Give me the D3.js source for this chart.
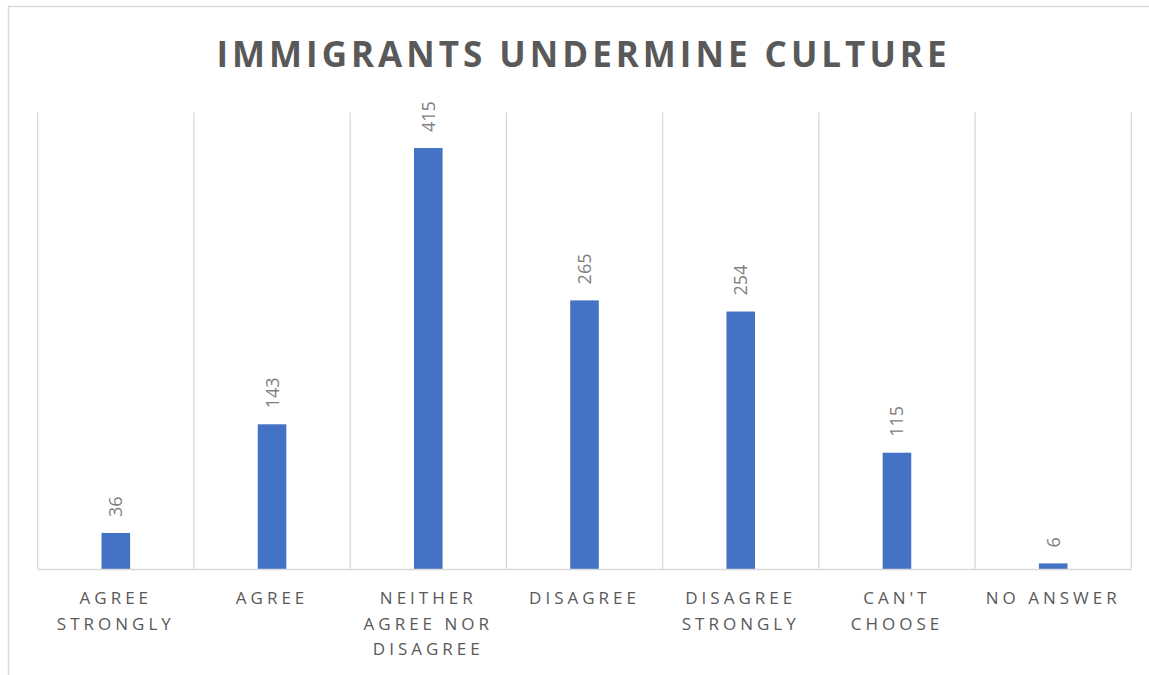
<!DOCTYPE html>
<html>
<head>
<meta charset="utf-8">
<script src="https://cdn.jsdelivr.net/npm/d3@7"></script>
<style>
  html, body { margin: 0; padding: 0; background: #fff; }
  svg { display: block; }
</style>
</head>
<body>
<svg id="chart" width="1149" height="675"></svg>
<script>
// Survey responses: "Immigrants undermine culture"
const categories = [
  "Agree strongly",
  "Agree",
  "Neither agree nor disagree",
  "Disagree",
  "Disagree strongly",
  "Can't choose",
  "No answer"
];
// Axis label lines for each category (wrapped as displayed)
const tickLabels = [
  ["AGREE", "STRONGLY"],
  ["AGREE"],
  ["NEITHER", "AGREE NOR", "DISAGREE"],
  ["DISAGREE"],
  ["DISAGREE", "STRONGLY"],
  ["CAN'T", "CHOOSE"],
  ["NO ANSWER"]
];
const counts = [36, 143, 415, 265, 254, 115, 6];
const yDomain = [0, 450];
const title = "IMMIGRANTS UNDERMINE CULTURE";

const svg = d3.select("#chart");
const W = 1149, H = 675;
const plot = { left: 37.7, right: 1131.3, top: 112.5, bottom: 569.5 };

// Outer chart frame
svg.append("rect")
  .attr("x", 8.5).attr("y", 6.5)
  .attr("width", W + 20).attr("height", H + 20)
  .attr("fill", "#fff")
  .attr("stroke", "#d9d9d9").attr("stroke-width", 1.5);

const x = d3.scaleBand()
  .domain(categories)
  .range([plot.left, plot.right])
  .paddingInner(0).paddingOuter(0);

const y = d3.scaleLinear()
  .domain(yDomain)
  .range([plot.bottom, plot.top]);

const barFrac = 0.183;
const bw = x.bandwidth() * barFrac;

// Vertical gridlines at category boundaries
const bounds = categories.map(c => x(c)).concat([x(categories[categories.length - 1]) + x.bandwidth()]);
svg.append("g")
  .selectAll("line")
  .data(bounds)
  .join("line")
  .attr("x1", d => d).attr("x2", d => d)
  .attr("y1", plot.top).attr("y2", plot.bottom)
  .attr("stroke", "#d9d9d9").attr("stroke-width", 1.3);

// Bars
svg.append("g")
  .selectAll("rect")
  .data(counts)
  .join("rect")
  .attr("x", (d, i) => x(categories[i]) + x.bandwidth() / 2 - bw / 2)
  .attr("width", bw)
  .attr("y", d => y(d))
  .attr("height", d => y(0) - y(d))
  .attr("fill", "#4472C4");

// Baseline axis line
svg.append("line")
  .attr("x1", plot.left).attr("x2", plot.right)
  .attr("y1", y(0)).attr("y2", y(0))
  .attr("stroke", "#d9d9d9").attr("stroke-width", 1.5);

// Value labels, rotated
svg.append("g")
  .selectAll("text")
  .data(counts)
  .join("text")
  .attr("transform", (d, i) => {
    const cx = x(categories[i]) + x.bandwidth() / 2;
    return `translate(${cx},${y(d) - 16}) rotate(-90)`;
  })
  .attr("dy", "0.36em")
  .attr("text-anchor", "start")
  .attr("font-family", "'Open Sans', sans-serif")
  .attr("font-size", 18)
  .attr("fill", "#7f7f7f")
  .text(d => d);

// Category labels
const catG = svg.append("g");
tickLabels.forEach((lines, i) => {
  const cx = x(categories[i]) + x.bandwidth() / 2;
  const t = catG.append("text")
    .attr("text-anchor", "middle")
    .attr("font-family", "'Open Sans', sans-serif")
    .attr("font-size", 17)
    .attr("letter-spacing", "4px")
    .attr("fill", "#595959");
  lines.forEach((ln, j) => {
    t.append("tspan")
      .attr("x", cx)
      .attr("y", 604 + j * 25.5)
      .text(ln);
  });
});

// Title
svg.append("text")
  .attr("x", (plot.left + plot.right) / 2 - 1)
  .attr("y", 67)
  .attr("text-anchor", "middle")
  .attr("font-family", "'Open Sans', sans-serif")
  .attr("font-weight", 700)
  .attr("font-size", 35)
  .attr("letter-spacing", "4px")
  .attr("fill", "#595959")
  .text(title);
</script>
</body>
</html>
